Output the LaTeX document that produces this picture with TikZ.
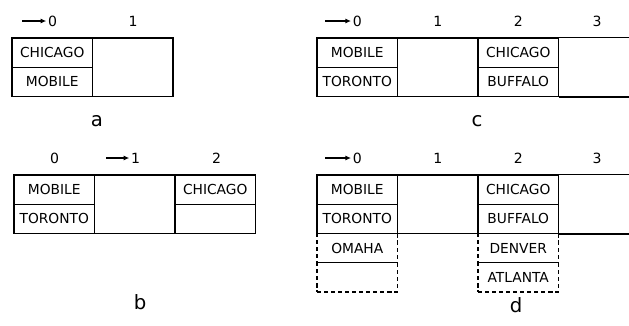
\documentclass[tikz,border=0pt]{standalone}
\usepackage{fontspec}
\setmainfont{DejaVu Sans}
\usetikzlibrary{arrows.meta}

\tikzset{
  cell/.style={draw, line width=1pt, minimum width=2.0125cm, minimum height=0.73cm,
    inner sep=0pt, font=\fontsize{9.8}{10}\selectfont},
  slot/.style={draw, line width=1pt, minimum width=2.0125cm, minimum height=1.46cm, inner sep=0pt},
  dcell/.style={cell, dash pattern=on 3pt off 2pt},
  num/.style={inner sep=1pt, font=\fontsize{10}{10}\selectfont},
  tag/.style={inner sep=0pt, font=\fontsize{14}{14}\selectfont},
  ptr/.style={-{Latex[length=4pt,width=3.5pt]}, line width=0.8pt},
  rim/.style={line width=1pt}
}

\begin{document}
\begin{tikzpicture}[x=0.025cm,y=-0.025cm]
\useasboundingbox (0,0) rectangle (629,325);
% a
\node[num] (a0) at (52.5,21) {0};
\node[num] (a1) at (133,21) {1};
\coordinate (a0p) at (22,21);
\draw[ptr] (a0p) -- (a0);
\node[cell] (aChi) at (52.25,52.6) {CHICAGO};
\node[cell] (aMob) at (52.25,81.8) {MOBILE};
\node[slot] (aS1) at (132.75,67.2) {};
\node[tag] (aT) at (97,121) {a};
% b
\node[num] (b0) at (54.5,158) {0};
\node[num] (b1) at (135.5,158) {1};
\node[num] (b2) at (216.5,158) {2};
\coordinate (b1p) at (106,158);
\draw[ptr] (b1p) -- (b1);
\node[cell] (bMob) at (54.25,189.6) {MOBILE};
\node[cell] (bTor) at (54.25,218.8) {TORONTO};
\node[slot] (bS1) at (134.75,204.2) {};
\node[cell] (bChi) at (215.25,189.6) {CHICAGO};
\node[cell] (bE) at (215.25,218.8) {};
\node[tag] (bT) at (140,302) {b};
% c
\node[num] (c0) at (357.25,21) {0};
\node[num] (c1) at (437.75,21) {1};
\node[num] (c2) at (518.25,21) {2};
\node[num] (c3) at (597,21) {3};
\coordinate (c0p) at (325,21);
\draw[ptr] (c0p) -- (c0);
\node[cell] (cMob) at (357.25,52.6) {MOBILE};
\node[cell] (cTor) at (357.25,81.8) {TORONTO};
\node[slot] (cS1) at (437.75,67.2) {};
\node[cell] (cChi) at (518.25,52.6) {CHICAGO};
\node[cell] (cBuf) at (518.25,81.8) {BUFFALO};
\draw[rim] (cChi.north east) -- ++(72,0);
\draw[rim] (cBuf.south east) -- ++(72,0);
\node[tag] (cT) at (477,121) {c};
% d
\node[num] (d0) at (357.25,158) {0};
\node[num] (d1) at (437.75,158) {1};
\node[num] (d2) at (518.25,158) {2};
\node[num] (d3) at (597,158) {3};
\coordinate (d0p) at (325,158);
\draw[ptr] (d0p) -- (d0);
\node[cell] (dMob) at (357.25,189.6) {MOBILE};
\node[cell] (dTor) at (357.25,218.8) {TORONTO};
\node[slot] (dS1) at (437.75,204.2) {};
\node[cell] (dChi) at (518.25,189.6) {CHICAGO};
\node[cell] (dBuf) at (518.25,218.8) {BUFFALO};
\draw[rim] (dChi.north east) -- ++(72,0);
\draw[rim] (dBuf.south east) -- ++(72,0);
\node[dcell] (dOma) at (357.25,248) {OMAHA};
\node[dcell] (dE) at (357.25,277.2) {};
\node[dcell] (dDen) at (518.25,248) {DENVER};
\node[dcell] (dAtl) at (518.25,277.2) {ATLANTA};
\node[tag] (dT) at (516,305) {d};
\end{tikzpicture}
\end{document}
